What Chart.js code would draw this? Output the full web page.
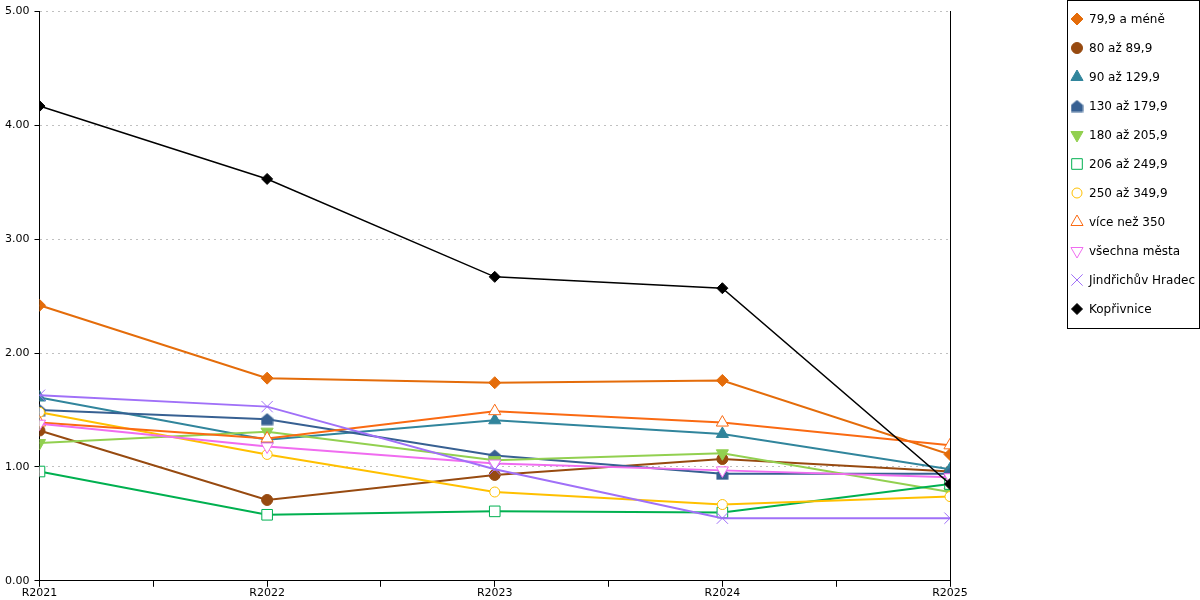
<!DOCTYPE html>
<html>
<head>
<meta charset="utf-8">
<style>
  html, body { margin: 0; padding: 0; background: #fff; }
</style>
<script src="https://cdn.jsdelivr.net/npm/chart.js@4/dist/chart.umd.min.js"></script>
</head>
<body>
<canvas id="myChart" width="1200" height="600"></canvas>
<script>
var categories = ['R2021', 'R2022', 'R2023', 'R2024', 'R2025'];
var yTicks = [0, 1, 2, 3, 4, 5];

var s799 = [2.42, 1.78, 1.74, 1.76, 1.11];
var s80 = [1.32, 0.71, 0.93, 1.07, 0.96];
var s90 = [1.61, 1.24, 1.41, 1.29, 0.98];
var s130 = [1.50, 1.42, 1.10, 0.94, 0.94];
var s180 = [1.21, 1.31, 1.06, 1.12, 0.78];
var s206 = [0.96, 0.58, 0.61, 0.60, 0.85];
var s250 = [1.48, 1.11, 0.78, 0.67, 0.74];
var s350 = [1.39, 1.25, 1.49, 1.39, 1.19];
var sAll = [1.38, 1.18, 1.03, 0.97, 0.91];
var sJH = [1.63, 1.53, 0.98, 0.55, 0.55];
var sKop = [4.17, 3.53, 2.67, 2.57, 0.85];

// little house-shaped marker for 130 až 179,9
var house = document.createElement('canvas');
house.width = 13;
house.height = 13;
var hc = house.getContext('2d');
hc.fillStyle = '#376092';
hc.beginPath();
hc.moveTo(6.5, 0.5);
hc.lineTo(12.5, 5.5);
hc.lineTo(12.5, 12.5);
hc.lineTo(0.5, 12.5);
hc.lineTo(0.5, 5.5);
hc.closePath();
hc.fill();

function pts(arr) {
    return arr.map(function (v, i) { return { x: i, y: v }; });
}

function series(label, values, color, style, radius, open, rotation, width) {
    return {
        label: label,
        data: pts(values),
        borderColor: color,
        backgroundColor: color,
        borderWidth: width || 2,
        pointStyle: style,
        pointRadius: radius,
        pointHoverRadius: radius,
        pointRotation: rotation || 0,
        pointBackgroundColor: open ? '#ffffff' : color,
        pointBorderColor: color,
        pointBorderWidth: 1,
        tension: 0,
        fill: false
    };
}

var datasets = [
    series('79,9 a méně', s799, '#e46c0a', 'rectRot', 6),
    series('80 až 89,9', s80, '#974a10', 'circle', 5.5),
    series('90 až 129,9', s90, '#31859c', 'triangle', 7),
    series('130 až 179,9', s130, '#376092', house, 6),
    series('180 až 205,9', s180, '#92d050', 'triangle', 7, false, 180),
    series('206 až 249,9', s206, '#00b050', 'rect', 7.5, true),
    series('250 až 349,9', s250, '#ffc000', 'circle', 5, true),
    series('více než 350', s350, '#fa6a12', 'triangle', 7, true),
    series('všechna města', sAll, '#f06cf0', 'triangle', 7, true, 180),
    series('Jindřichův Hradec', sJH, '#a070f8', 'crossRot', 8),
    series('Kopřivnice', sKop, '#000000', 'rectRot', 5.5, false, 0, 1.5)
];
datasets.forEach(function (d, i) { d.order = -i; });

// boxed legend on the right, drawn by hand
var boxLegend = {
    id: 'boxLegend',
    afterDraw: function (chart) {
        var ctx = chart.ctx;
        var left = chart.width - 133;
        ctx.save();
        ctx.strokeStyle = '#000';
        ctx.lineWidth = 1;
        ctx.strokeRect(left + 0.5, 0.5, 132, 328);
        ctx.font = '12px "DejaVu Sans"';
        ctx.textBaseline = 'middle';
        chart.data.datasets.forEach(function (d, i) {
            var y = 19 + i * 29;
            ctx.fillStyle = d.pointBackgroundColor;
            ctx.strokeStyle = d.pointBorderColor;
            ctx.lineWidth = 1;
            Chart.helpers.drawPoint(ctx, {
                pointStyle: d.pointStyle,
                rotation: d.pointRotation,
                radius: d.pointRadius,
                borderWidth: 1
            }, left + 10, y);
            ctx.fillStyle = '#000';
            ctx.fillText(d.label, left + 22, y + 1);
        });
        ctx.restore();
    }
};

Chart.defaults.font.family = '"DejaVu Sans"';
Chart.defaults.font.size = 11;
Chart.defaults.color = '#000';

var ctx = document.getElementById('myChart').getContext('2d');
var chart = new Chart(ctx, {
    type: 'line',
    data: { datasets: datasets },
    options: {
        responsive: false,
        animation: false,
        layout: { padding: { left: 0, top: 3 } },
        plugins: {
            legend: { display: false },
            tooltip: { enabled: false }
        },
        scales: {
            x: {
                type: 'linear',
                min: 0,
                max: categories.length - 1,
                ticks: {
                    stepSize: 0.5,
                    autoSkip: false,
                    maxRotation: 0,
                    padding: 0,
                    callback: function (v) {
                        return Number.isInteger(v) ? categories[v] : '';
                    }
                },
                grid: { drawOnChartArea: false, tickLength: 6, tickColor: '#000' },
                border: { color: '#000' }
            },
            y: {
                min: yTicks[0],
                max: yTicks[yTicks.length - 1],
                afterBuildTicks: function (axis) {
                    axis.ticks = yTicks.map(function (v) { return { value: v }; });
                },
                ticks: {
                    padding: 5,
                    callback: function (v) { return v.toFixed(2); }
                },
                grid: {
                    color: '#c0c0c0',
                    tickLength: 5,
                    tickColor: '#000',
                    tickBorderDash: []
                },
                border: { color: '#000', dash: [2, 4] }
            },
            y2: {
                position: 'right',
                min: 0,
                max: 5,
                ticks: { display: false },
                grid: { display: false },
                border: { color: '#000' },
                afterFit: function (axis) { axis.width = 250; }
            }
        }
    },
    plugins: [boxLegend]
});
</script>
</body>
</html>
